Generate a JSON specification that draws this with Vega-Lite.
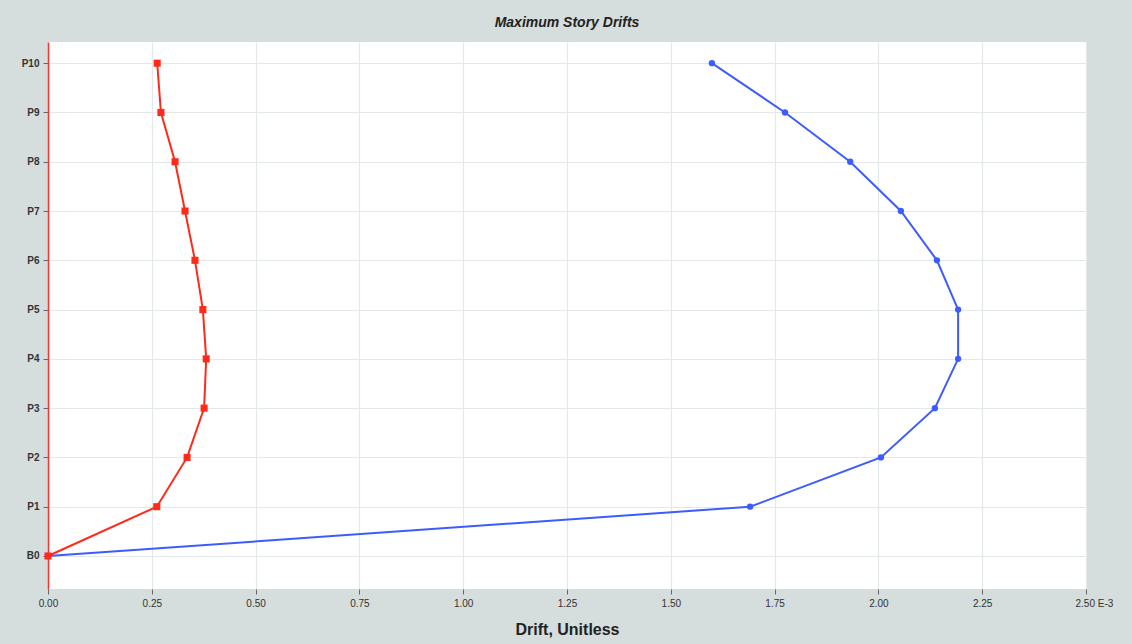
{
  "$schema": "https://vega.github.io/schema/vega-lite/v6.json",
  "autosize": {"type": "none"},
  "width": 1038,
  "height": 547,
  "padding": {"left": 48, "top": 42, "right": 46, "bottom": 55},
  "background": "#d5dddd",
  "title": {
    "text": "Maximum Story Drifts",
    "fontSize": 14,
    "fontStyle": "italic",
    "fontWeight": "bold",
    "font": "Liberation Sans",
    "color": "#222222",
    "anchor": "middle",
    "offset": 12
  },
  "config": {
    "view": {"fill": "white", "stroke": null},
    "font": "Liberation Sans",
    "axis": {
      "labelFont": "Liberation Sans",
      "labelFontSize": 10,
      "labelColor": "#333333",
      "tickColor": "#666666",
      "tickSize": 5,
      "gridColor": "#e3e8e8",
      "gridWidth": 1.2
    }
  },
  "datasets": {
    "drifts": [
      {"series": "X", "story": "B0", "level": 0, "drift": 0},
      {"series": "X", "story": "P1", "level": 1, "drift": 0.262},
      {"series": "X", "story": "P2", "level": 2, "drift": 0.335},
      {"series": "X", "story": "P3", "level": 3, "drift": 0.376},
      {"series": "X", "story": "P4", "level": 4, "drift": 0.381},
      {"series": "X", "story": "P5", "level": 5, "drift": 0.373},
      {"series": "X", "story": "P6", "level": 6, "drift": 0.354},
      {"series": "X", "story": "P7", "level": 7, "drift": 0.330},
      {"series": "X", "story": "P8", "level": 8, "drift": 0.306},
      {"series": "X", "story": "P9", "level": 9, "drift": 0.272},
      {"series": "X", "story": "P10", "level": 10, "drift": 0.263},
      {"series": "Y", "story": "B0", "level": 0, "drift": 0},
      {"series": "Y", "story": "P1", "level": 1, "drift": 1.691},
      {"series": "Y", "story": "P2", "level": 2, "drift": 2.006},
      {"series": "Y", "story": "P3", "level": 3, "drift": 2.136},
      {"series": "Y", "story": "P4", "level": 4, "drift": 2.192},
      {"series": "Y", "story": "P5", "level": 5, "drift": 2.192},
      {"series": "Y", "story": "P6", "level": 6, "drift": 2.141},
      {"series": "Y", "story": "P7", "level": 7, "drift": 2.054},
      {"series": "Y", "story": "P8", "level": 8, "drift": 1.932},
      {"series": "Y", "story": "P9", "level": 9, "drift": 1.775},
      {"series": "Y", "story": "P10", "level": 10, "drift": 1.599}
    ]
  },
  "data": {"name": "drifts"},
  "encoding": {
    "x": {
      "field": "drift",
      "type": "quantitative",
      "scale": {"domain": [0, 2.5], "nice": false, "zero": false},
      "axis": {
        "values": [0, 0.25, 0.5, 0.75, 1, 1.25, 1.5, 1.75, 2, 2.25, 2.5],
        "labelExpr": "datum.value >= 2.5 ? '2.50 E-3' : format(datum.value, '.2f')",
        "labelAlign": {"condition": {"test": "datum.value >= 2.5", "value": "left"}, "value": "center"},
        "labelOffset": {"condition": {"test": "datum.value >= 2.5", "value": -11}, "value": 0},
        "labelPadding": 4,
        "domain": false,
        "title": "Drift, Unitless",
        "titleFontSize": 16,
        "titleFontWeight": "bold",
        "titleColor": "#222222",
        "titlePadding": 13
      }
    },
    "y": {
      "field": "level",
      "type": "quantitative",
      "scale": {"domain": [-0.67, 10.43], "nice": false, "zero": false},
      "axis": {
        "values": [0, 1, 2, 3, 4, 5, 6, 7, 8, 9, 10],
        "labelExpr": "datum.value == 0 ? 'B0' : 'P' + datum.value",
        "labelFontWeight": "bold",
        "labelPadding": 4,
        "domainColor": "#ff3030",
        "domainWidth": 1.5,
        "title": null
      }
    },
    "color": {
      "field": "series",
      "type": "nominal",
      "scale": {"domain": ["Y", "X"], "range": ["#3d5cff", "#ff2a1a"]},
      "legend": null
    },
    "order": {"field": "level", "type": "quantitative"}
  },
  "layer": [
    {
      "transform": [{"filter": "datum.series == 'Y'"}],
      "layer": [
        {"mark": {"type": "line", "strokeWidth": 2}},
        {"mark": {"type": "point", "shape": "circle", "filled": true, "size": 40, "opacity": 1}}
      ]
    },
    {
      "transform": [{"filter": "datum.series == 'X'"}],
      "layer": [
        {"mark": {"type": "line", "strokeWidth": 2}},
        {"mark": {"type": "point", "shape": "square", "filled": true, "size": 50, "opacity": 1}}
      ]
    }
  ]
}
